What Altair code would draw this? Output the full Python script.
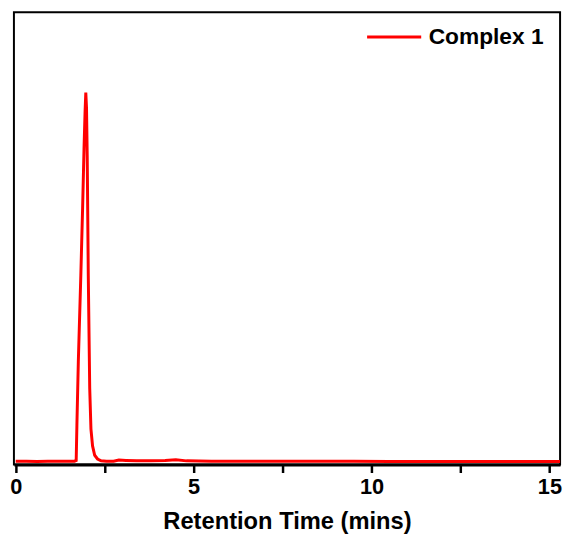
import altair as alt
import pandas as pd

# Retention time (mins) and detector signal (normalised)
time = [0.0, 0.3, 0.6, 0.9, 1.2, 1.5, 1.65, 1.70, 1.72, 1.76, 1.83, 1.88, 1.92, 1.95, 1.97,
        1.99, 2.01, 2.04, 2.08, 2.115, 2.16, 2.22, 2.30, 2.40, 2.55, 2.75, 2.9, 3.1, 3.4,
        3.8, 4.2, 4.5, 4.8, 5.5, 6.5, 7.5, 8.5, 9.5, 10.5, 11.5, 12.5, 13.5, 14.5, 15.3]
signal = [0.004, 0.004, 0.003, 0.004, 0.004, 0.004, 0.004, 0.006, 0.10, 0.27, 0.50, 0.68,
          0.84, 0.94, 0.99, 0.95, 0.82, 0.50, 0.20, 0.09, 0.045, 0.02, 0.01, 0.005, 0.004,
          0.004, 0.007, 0.006, 0.005, 0.005, 0.006, 0.008, 0.005, 0.004, 0.004, 0.004,
          0.004, 0.004, 0.003, 0.003, 0.003, 0.003, 0.003, 0.003]
series_name = "Complex 1"
x_ticks = [0, 2.5, 5, 7.5, 10, 12.5, 15]

df = pd.DataFrame({"t": time, "v": signal, "s": [series_name] * len(time)})

chart = (
    alt.Chart(df)
    .mark_line(strokeWidth=3)
    .encode(
        x=alt.X("t:Q", scale=alt.Scale(domain=[-0.05, 15.3], nice=False, zero=False),
                axis=alt.Axis(title="Retention Time (mins)", values=x_ticks,
                              labelExpr="datum.value % 5 === 0 ? datum.label : ''",
                              grid=False, tickSize=8, tickWidth=2.5, tickColor="black",
                              domainColor="black", domainWidth=3,
                              labelFont="Liberation Sans", labelFontSize=22,
                              labelFontWeight="bold", labelColor="black", labelPadding=4,
                              titleFont="Liberation Sans", titleFontSize=24,
                              titleFontWeight="bold", titleColor="black", titlePadding=13)),
        y=alt.Y("v:Q", scale=alt.Scale(domain=[-0.005, 1.205], nice=False), axis=None),
        color=alt.Color("s:N", scale=alt.Scale(range=["#ff0000"]),
                        legend=alt.Legend(title=None, orient="none", legendX=356, legendY=-4,
                                          symbolType="stroke", symbolSize=3000,
                                          symbolStrokeWidth=3, labelFont="Liberation Sans",
                                          labelFontSize=23, labelFontWeight="bold",
                                          labelColor="black", labelOffset=6)),
    )
    .properties(width=565, height=529,
                autosize=alt.AutoSizeParams(type="fit", contains="padding"),
                padding={"left": 1, "top": 1, "right": 0, "bottom": 0})
    .configure_view(stroke="black", strokeWidth=2)
)

chart.save("out.html", embed_options={"renderer": "svg", "actions": False})
